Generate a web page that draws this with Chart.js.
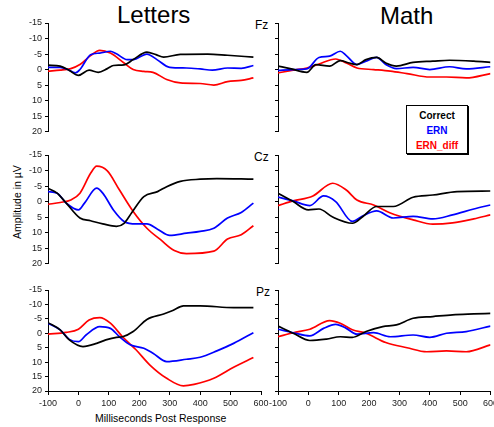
<!DOCTYPE html>
<html>
<head>
<meta charset="utf-8">
<script src="https://cdn.jsdelivr.net/npm/chart.js@4/dist/chart.umd.min.js"></script>
<style>
  body { margin: 0; width: 494px; height: 427px; overflow: hidden; background: #fff; position: relative; font-family: "Liberation Sans", Arial, sans-serif; }
  canvas { position: absolute; }
  .txt { position: absolute; color: #000; white-space: nowrap; }
  #legend { position: absolute; left: 406px; top: 105px; width: 62px; height: 49px; border: 1px solid #000; box-shadow: 1px 1px 0 #000; font-weight: bold; font-size: 10px; text-align: center; line-height: 15px; padding-top: 2px; box-sizing: border-box; }
</style>
</head>
<body>

<div class="txt" style="left:117px;top:1px;font-size:24px">Letters</div>
<div class="txt" style="left:380px;top:2px;font-size:24px">Math</div>
<div class="txt" style="left:255px;top:18px;font-size:12px">Fz</div>
<div class="txt" style="left:254px;top:150px;font-size:12px">Cz</div>
<div class="txt" style="left:256px;top:285px;font-size:12px">Pz</div>
<div class="txt" style="left:-23px;top:196px;font-size:10.5px;transform:rotate(-90deg);width:80px;text-align:center">Amplitude in µV</div>
<div class="txt" style="left:95px;top:412px;font-size:10.5px">Milliseconds Post Response</div>

<div id="legend">
  <div style="color:#000">Correct</div>
  <div style="color:#0000ff">ERN</div>
  <div style="color:#ff0000">ERN_diff</div>
</div>

<canvas id="fzL" width="275" height="127" style="left:0;top:13px"></canvas>
<canvas id="fzM" width="280" height="127" style="left:230px;top:13px"></canvas>
<canvas id="czL" width="275" height="127" style="left:0;top:145px"></canvas>
<canvas id="czM" width="280" height="127" style="left:230px;top:145px"></canvas>
<canvas id="pzL" width="275" height="141" style="left:0;top:280px"></canvas>
<canvas id="pzM" width="280" height="141" style="left:230px;top:280px"></canvas>

<script>
// =======================
// Data  [ms, µV]
// =======================
const xTicks = [-100, 0, 100, 200, 300, 400, 500, 600]
const yTicks = [-15, -10, -5, 0, 5, 10, 15, 20]

const fzLettersCorrect = [[-100,-1.4],[-60,-1.1],[-30,0.3],[0,1.9],[35,0.2],[65,0.9],[95,-0.3],[115,-1.3],[150,-1.5],[180,-3.2],[225,-5.6],[255,-4.8],[280,-4.0],[335,-4.9],[425,-5.0],[490,-4.6],[575,-4.0]]
const fzLettersErn = [[-100,-0.7],[-60,-0.7],[-35,0],[-10,1.1],[5,0],[40,-4.8],[70,-5.3],[105,-5.9],[125,-5.1],[160,-3.2],[180,-3.2],[225,-5.0],[258,-3.2],[300,-0.7],[355,-0.5],[400,-0.2],[440,0.2],[490,-0.5],[535,-0.4],[575,-1.3]]
const fzLettersDiff = [[-100,0.5],[-60,0.2],[-25,-0.3],[5,-1.6],[40,-4.5],[70,-6.2],[105,-5.3],[150,-2.1],[180,0],[215,0.6],[245,0.9],[290,3.2],[335,4.3],[400,4.5],[445,5.0],[490,3.9],[535,3.5],[575,2.7]]

const fzMathCorrect = [[-100,-1.1],[-60,-0.3],[-5,0.9],[25,-1.6],[70,-1.1],[105,-2.9],[135,-2.1],[160,-1.6],[190,-3.2],[225,-3.9],[255,-2.1],[290,-1.1],[345,-2.3],[410,-2.7],[465,-3.0],[545,-2.7],[600,-2.3]]
const fzMathErn = [[-100,0.3],[-50,0],[-5,-0.2],[35,-3.9],[70,-4.3],[105,-5.9],[125,-4.5],[160,-1.6],[190,-2.7],[225,-3.9],[255,-1.6],[290,-0.3],[345,-0.7],[400,0],[465,-0.9],[520,-0.2],[600,-0.9]]
const fzMathDiff = [[-100,1.1],[-50,0.2],[-5,-0.5],[35,-1.8],[90,-3.4],[125,-2.1],[160,-0.5],[215,0],[270,0.5],[325,1.3],[400,2.4],[455,2.4],[520,2.7],[600,1.3]]

const czLettersCorrect = [[-100,-4.3],[-70,-2.7],[-40,0.5],[5,5.3],[40,6.2],[80,7.2],[125,8.0],[150,7.0],[175,3.6],[215,-1.6],[260,-3.2],[290,-4.8],[335,-6.5],[400,-7.2],[455,-7.4],[575,-7.2]]
const czLettersErn = [[-100,-3.2],[-70,-2.7],[-40,0.5],[0,2.7],[20,0.5],[60,-4.3],[80,-2.7],[115,2.7],[150,6.4],[190,7.2],[225,7.2],[260,8.9],[300,10.9],[355,10.2],[400,9.6],[445,8.6],[490,5.3],[535,3.5],[575,0.5]]
const czLettersDiff = [[-100,0.9],[-60,0.3],[-25,-0.5],[5,-2.7],[40,-9.1],[60,-11.4],[95,-9.9],[135,-3.7],[180,3.2],[225,8.6],[270,12.3],[315,15.8],[355,16.8],[445,16.0],[490,12.1],[535,10.7],[575,7.8]]

const czMathCorrect = [[-100,-2.7],[-50,0],[0,2.7],[35,2.4],[80,5.0],[145,7.0],[180,4.8],[225,1.6],[280,1.6],[345,-1.4],[410,-2.1],[490,-3.2],[600,-3.4]]
const czMathErn = [[-100,-1.4],[-50,-0.2],[5,1.3],[50,-1.8],[90,0],[145,6.4],[180,4.6],[225,3.0],[280,5.3],[345,4.8],[410,5.6],[475,4.3],[545,2.4],[600,1.1]]
const czMathDiff = [[-100,1.3],[-50,-0.2],[15,-1.8],[80,-5.9],[125,-3.7],[160,-0.5],[215,1.1],[270,3.7],[345,5.9],[410,7.3],[475,6.9],[545,5.6],[600,4.3]]

const pzLettersCorrect = [[-100,-3.7],[-60,-1.2],[-30,2.3],[15,4.6],[60,3.5],[90,2.3],[125,1.4],[145,1.2],[180,-0.6],[225,-4.8],[280,-6.7],[310,-7.9],[345,-9.5],[400,-9.5],[510,-8.9],[575,-8.9]]
const pzLettersErn = [[-100,-3.5],[-60,-1.2],[-30,2.1],[0,2.9],[25,0.6],[70,-2.3],[105,-1.7],[135,1.2],[170,4.0],[215,5.2],[245,6.9],[290,9.8],[355,9.0],[400,8.3],[455,6.1],[510,3.5],[575,-0.2]]
const pzLettersDiff = [[-100,0.3],[-40,-0.3],[0,-1.4],[35,-4.6],[70,-5.4],[105,-3.5],[145,1.2],[190,5.8],[235,11.0],[290,15.6],[345,18.2],[380,17.7],[445,15.6],[510,11.8],[575,8.4]]

const pzMathCorrect = [[-100,-2.5],[-50,0],[5,2.5],[60,2.0],[105,1.2],[145,1.4],[190,-0.6],[245,-2.3],[290,-2.9],[345,-5.2],[410,-5.8],[475,-6.4],[545,-6.7],[600,-6.9]]
const pzMathErn = [[-100,-1.4],[-50,-0.2],[5,0.9],[50,-1.7],[90,-3.1],[125,-1.7],[160,0.3],[215,-0.2],[270,1.2],[345,0.6],[400,1.4],[455,0],[520,-0.6],[600,-2.5]]
const pzMathDiff = [[-100,1.2],[-50,-0.2],[5,-1.4],[70,-4.4],[105,-3.5],[145,-1.2],[190,0],[255,3.2],[325,5.0],[390,6.4],[455,6.1],[520,6.4],[600,4.0]]


// =======================
// Panel
// =======================
const FONT = { family: "Liberation Sans, Arial, sans-serif", size: 9 }

function makePanel(id, correct, ern, diff, leftCol, bottomRow) {
  const line = (pts, color) => ({
    data: pts.map(p => ({ x: p[0], y: p[1] })),
    borderColor: color,
    borderWidth: 1.7,
    pointRadius: 0,
    fill: false,
    cubicInterpolationMode: "monotone"
  })

  new Chart(document.getElementById(id), {
    type: "line",
    data: {
      datasets: [line(correct, "#000000"), line(ern, "#0000ff"), line(diff, "#ff0000")]
    },
    options: {
      animation: false,
      responsive: false,
      devicePixelRatio: 1,
      layout: {
        // left column ends at x=261, right column at x=490
        padding: { left: 0, top: 10, right: leftCol ? 14 : 19.5, bottom: bottomRow ? 0 : 8 }
      },
      plugins: { legend: { display: false }, tooltip: { enabled: false } },
      scales: {
        x: {
          type: "linear",
          display: bottomRow,
          min: -100,
          max: 600,
          afterBuildTicks: s => { s.ticks = xTicks.map(v => ({ value: v })) },
          afterFit: s => { if (bottomRow) s.height = 30 },
          grid: { drawOnChartArea: false, drawTicks: true, tickLength: 4, color: "#000" },
          border: { color: "#000", width: 1 },
          ticks: { font: FONT, color: "#222", padding: 3, maxRotation: 0, autoSkip: false }
        },
        y: {
          type: "linear",
          reverse: true,
          min: -15,
          max: 20,
          afterBuildTicks: s => { s.ticks = yTicks.map(v => ({ value: v })) },
          afterFit: s => { s.width = 48 },
          grid: { drawOnChartArea: false, drawTicks: true, tickLength: 3, color: "#000" },
          border: { color: "#000", width: 1 },
          ticks: {
            font: FONT,
            color: "#222",
            padding: 3,
            autoSkip: false,
            // only the Letters column carries labels
            callback: v => leftCol ? v : ""
          }
        }
      }
    }
  })
}


// =======================
// Start
// =======================
makePanel("fzL", fzLettersCorrect, fzLettersErn, fzLettersDiff, true, false)
makePanel("fzM", fzMathCorrect, fzMathErn, fzMathDiff, false, false)
makePanel("czL", czLettersCorrect, czLettersErn, czLettersDiff, true, false)
makePanel("czM", czMathCorrect, czMathErn, czMathDiff, false, false)
makePanel("pzL", pzLettersCorrect, pzLettersErn, pzLettersDiff, true, true)
makePanel("pzM", pzMathCorrect, pzMathErn, pzMathDiff, false, true)
</script>
</body>
</html>
